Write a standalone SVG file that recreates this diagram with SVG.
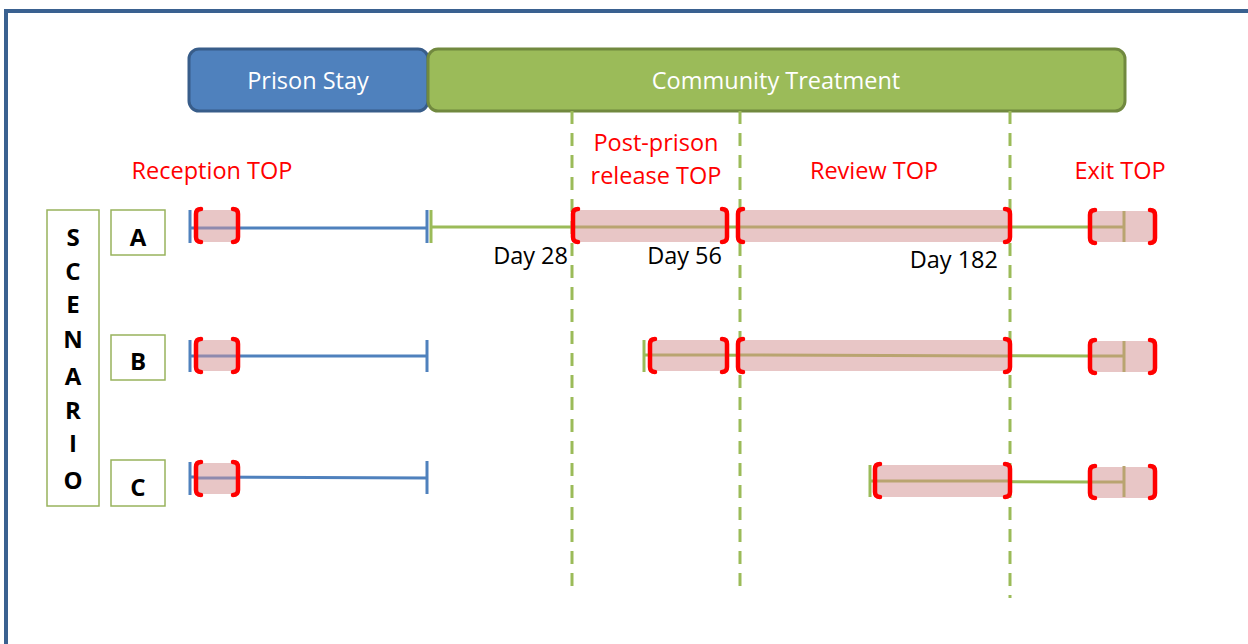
<svg xmlns="http://www.w3.org/2000/svg" width="1248" height="644" viewBox="0 0 1248 644">
<defs>
<style>
.lbl{font-family:"Open Sans","Liberation Sans",sans-serif;}
.hdr{font-size:23.5px;fill:#ffffff;text-anchor:middle;}
.red{font-size:23.5px;fill:#ff0000;text-anchor:middle;}
.day{font-size:23.5px;fill:#000000;text-anchor:end;}
.let{font-size:24px;font-weight:bold;fill:#000000;text-anchor:middle;}
.box{fill:#ffffff;stroke:#98b35c;stroke-width:1.5;}
.dash{stroke:#9bbb59;stroke-width:3;stroke-dasharray:13 9;fill:none;}
.bl{stroke:#4f81bd;stroke-width:3;fill:none;}
.gr{stroke:#9bbb59;stroke-width:3;fill:none;}
.pk{fill:#e8c6c6;}
.bin{stroke:#8e8aae;stroke-width:3;fill:none;}
.gin{stroke:#b9a470;stroke-width:3;fill:none;}
.br{stroke:#ff0000;stroke-width:4.5;fill:none;stroke-linecap:round;}
</style>
</defs>
<rect x="6" y="11" width="1260" height="660" fill="#ffffff" stroke="#3a6190" stroke-width="4"/>

<g id="prison-stay">
<rect x="189" y="49" width="239" height="62" rx="10" fill="#4f81bd" stroke="#385d8a" stroke-width="3"/>
<text class="lbl hdr" x="308" y="89">Prison Stay</text>
</g>
<g id="community-treatment">
<rect x="428" y="49" width="697" height="62" rx="10" fill="#9bbb59" stroke="#71893f" stroke-width="3"/>
<text class="lbl hdr" x="776" y="89">Community Treatment</text>
</g>

<g id="phase-labels">
<text class="lbl red" x="212" y="179">Reception TOP</text>
<text class="lbl red" x="656" y="151">Post-prison</text>
<text class="lbl red" x="656" y="184">release TOP</text>
<text class="lbl red" x="874" y="179">Review TOP</text>
<text class="lbl red" x="1120" y="179">Exit TOP</text>
</g>

<g id="scenario-label">
<rect class="box" x="47" y="210" width="52" height="296"/>
<text class="lbl let" x="73" y="246">S</text>
<text class="lbl let" x="73" y="280">C</text>
<text class="lbl let" x="73" y="313">E</text>
<text class="lbl let" x="73" y="348">N</text>
<text class="lbl let" x="73" y="385">A</text>
<text class="lbl let" x="73" y="419">R</text>
<text class="lbl let" x="73" y="452">I</text>
<text class="lbl let" x="73" y="489">O</text>
</g>
<g id="scenario-a"><rect class="box" x="111" y="210" width="54" height="45"/><text class="lbl let" x="138" y="246">A</text></g>
<g id="scenario-b"><rect class="box" x="111" y="335" width="54" height="45"/><text class="lbl let" x="138" y="370">B</text></g>
<g id="scenario-c"><rect class="box" x="111" y="460" width="54" height="46"/><text class="lbl let" x="138" y="496">C</text></g>

<g id="connectors">
<line class="dash" x1="572" y1="111" x2="572" y2="590"/>
<line class="dash" x1="740" y1="111" x2="740" y2="590"/>
<line class="dash" x1="1010" y1="111" x2="1010" y2="598"/>

<!-- Scenario A -->
<line class="bl" x1="190" y1="228" x2="428" y2="228"/>
<line class="bl" x1="190" y1="210" x2="190" y2="243"/>
<line class="bl" x1="427" y1="210" x2="427" y2="243"/>
<line class="gr" x1="431" y1="210" x2="431" y2="243"/>
<line class="gr" x1="431" y1="227" x2="1092" y2="227"/>
<rect class="pk" x="196" y="210" width="42" height="32"/>
<line class="bin" x1="196" y1="228" x2="238" y2="228"/>
<rect class="pk" x="574" y="210" width="152" height="32"/>
<line class="gin" x1="574" y1="227" x2="726" y2="227"/>
<rect class="pk" x="739" y="210" width="270" height="32"/>
<line class="gin" x1="739" y1="227" x2="1009" y2="227"/>
<rect class="pk" x="1092" y="211" width="63" height="31"/>
<line class="gin" x1="1092" y1="227" x2="1124" y2="227"/>
<line class="gin" x1="1124" y1="211" x2="1124" y2="242"/>
<path class="br" d="M201 209Q196 209 196 214V237Q196 242 201 242M233 209Q238 209 238 214V237Q238 242 233 242"/>
<path class="br" d="M578 209Q573 209 573 214V237Q573 242 578 242M722 209Q727 209 727 214V237Q727 242 722 242"/>
<path class="br" d="M743 209Q738 209 738 214V237Q738 242 743 242M1005 209Q1010 209 1010 214V237Q1010 242 1005 242"/>
<path class="br" d="M1095 210Q1090 210 1090 215V238Q1090 243 1095 243M1150 210Q1155 210 1155 215V238Q1155 243 1150 243"/>

<!-- Scenario B -->
<line class="bl" x1="190" y1="356" x2="428" y2="356"/>
<line class="bl" x1="190" y1="340" x2="190" y2="372"/>
<line class="bl" x1="427" y1="340" x2="427" y2="372"/>
<line class="gr" x1="644" y1="340" x2="644" y2="372"/>
<line class="gr" x1="644" y1="355" x2="1092" y2="356"/>
<rect class="pk" x="196" y="340" width="42" height="31"/>
<line class="bin" x1="196" y1="356" x2="238" y2="356"/>
<rect class="pk" x="651" y="340" width="76" height="31"/>
<line class="gin" x1="651" y1="355" x2="727" y2="355"/>
<rect class="pk" x="739" y="340" width="270" height="31"/>
<line class="gin" x1="739" y1="355" x2="1009" y2="356"/>
<rect class="pk" x="1092" y="341" width="63" height="31"/>
<line class="gin" x1="1092" y1="356" x2="1124" y2="356"/>
<line class="gin" x1="1124" y1="341" x2="1124" y2="372"/>
<path class="br" d="M201 339Q196 339 196 344V367Q196 372 201 372M233 339Q238 339 238 344V367Q238 372 233 372"/>
<path class="br" d="M655 339Q650 339 650 344V367Q650 372 655 372M722 339Q727 339 727 344V367Q727 372 722 372"/>
<path class="br" d="M743 339Q738 339 738 344V367Q738 372 743 372M1005 339Q1010 339 1010 344V367Q1010 372 1005 372"/>
<path class="br" d="M1095 340Q1090 340 1090 345V368Q1090 373 1095 373M1150 340Q1155 340 1155 345V368Q1155 373 1150 373"/>

<!-- Scenario C -->
<line class="bl" x1="190" y1="477" x2="428" y2="478"/>
<line class="bl" x1="190" y1="462" x2="190" y2="495"/>
<line class="bl" x1="427" y1="461" x2="427" y2="494"/>
<line class="gr" x1="870" y1="465" x2="870" y2="497"/>
<line class="gr" x1="870" y1="481" x2="1092" y2="482"/>
<rect class="pk" x="196" y="463" width="42" height="31"/>
<line class="bin" x1="196" y1="478" x2="238" y2="478"/>
<rect class="pk" x="876" y="465" width="133" height="32"/>
<line class="gin" x1="876" y1="481" x2="1009" y2="481"/>
<rect class="pk" x="1092" y="467" width="63" height="31"/>
<line class="gin" x1="1092" y1="482" x2="1124" y2="482"/>
<line class="gin" x1="1124" y1="466" x2="1124" y2="497"/>
<path class="br" d="M201 462Q196 462 196 467V490Q196 495 201 495M233 462Q238 462 238 467V490Q238 495 233 495"/>
<path class="br" d="M880 464Q875 464 875 469V492Q875 497 880 497M1005 464Q1010 464 1010 469V492Q1010 497 1005 497"/>
<path class="br" d="M1095 466Q1090 466 1090 471V493Q1090 498 1095 498M1150 466Q1155 466 1155 471V493Q1155 498 1150 498"/>
</g>

<g id="day-labels">
<text class="lbl day" x="568" y="264">Day 28</text>
<text class="lbl day" x="722" y="264">Day 56</text>
<text class="lbl day" x="998" y="268">Day 182</text>
</g>
</svg>
